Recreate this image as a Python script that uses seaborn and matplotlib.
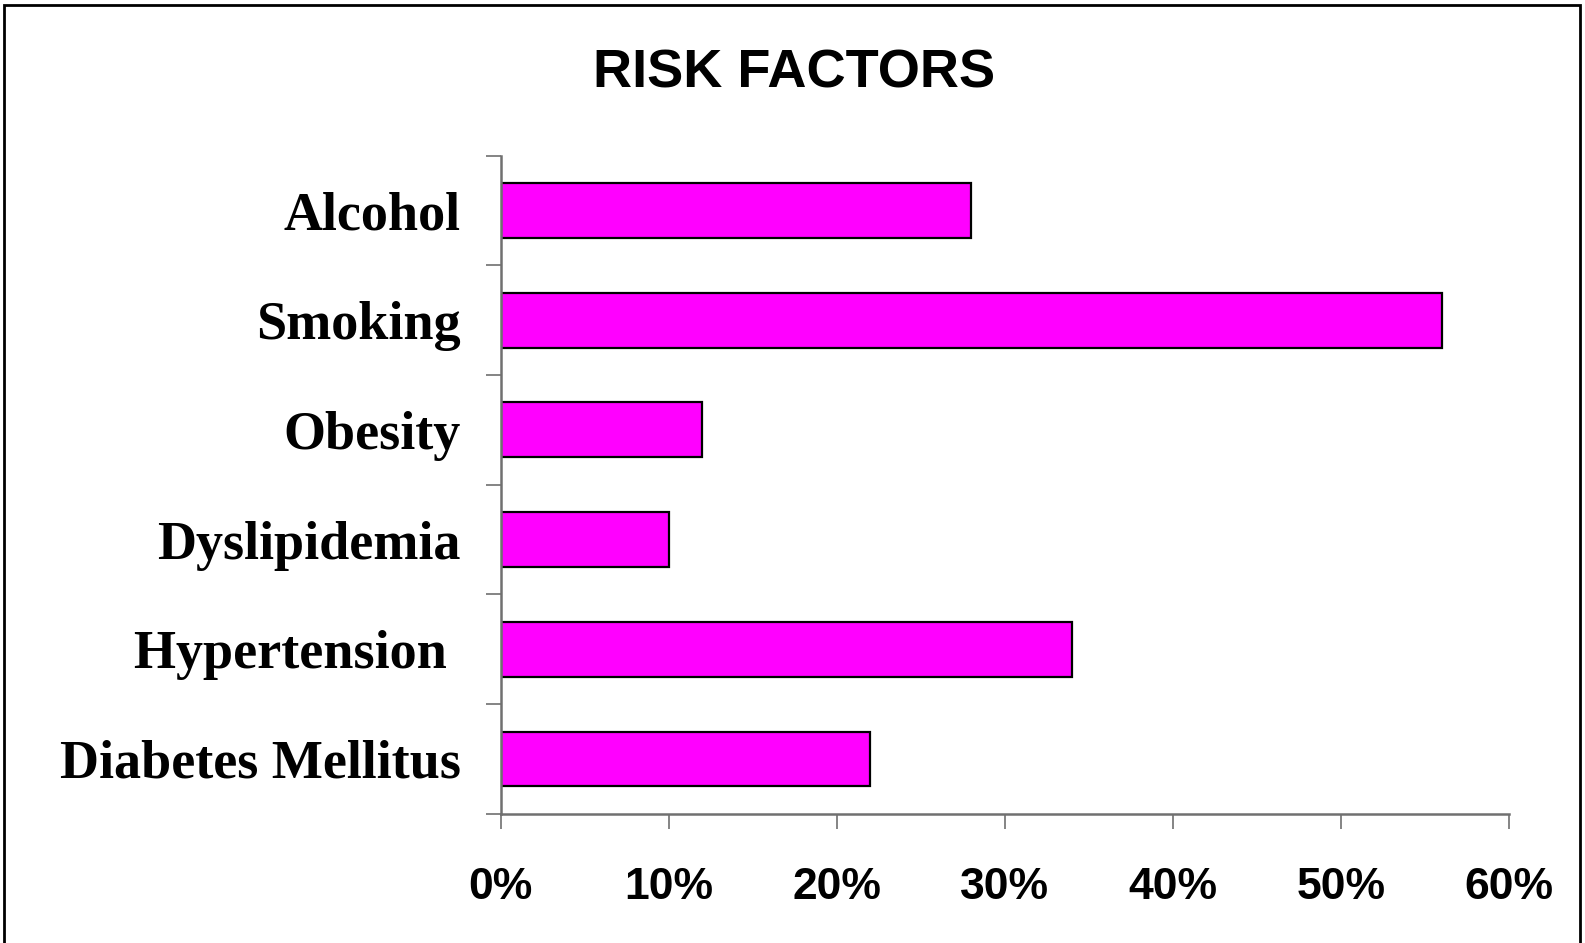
import matplotlib
matplotlib.use("Agg")
import matplotlib.pyplot as plt
import seaborn as sns
import pandas as pd
from matplotlib.patches import Rectangle

factors = ['Alcohol', 'Smoking', 'Obesity', 'Dyslipidemia', 'Hypertension ', 'Diabetes Mellitus']
percent = [28, 56, 12, 10, 34, 22]
x_ticks = [0, 10, 20, 30, 40, 50, 60]

df = pd.DataFrame({'factor': factors, 'percent': percent})

sns.set_style('white')
plt.rcParams['text.color'] = 'black'

fig = plt.figure(figsize=(15.85, 9.43), dpi=100)
ax = fig.add_axes([0.316, 0.137, 0.636, 0.698])

sns.barplot(data=df, x='percent', y='factor', orient='h', color='#ff00ff',
            saturation=1, width=0.5, edgecolor='black', linewidth=1.6, ax=ax)

# axis settings
ax.set_xlim(0, 60)
ax.set_ylim(len(factors) - 0.5, -0.5)
ax.set_xticks(x_ticks)
ax.set_xticklabels([f'{t}%' for t in x_ticks], fontfamily='Liberation Sans',
                   fontweight='bold', fontsize=32)
ax.set_yticks(range(len(factors)))
ax.set_yticklabels(factors, fontfamily='Liberation Serif', fontweight='bold',
                   fontsize=39)
ax.set_yticks([i - 0.5 for i in range(len(factors) + 1)], minor=True)
ax.tick_params(axis='y', which='major', left=True, length=0, pad=29,
               labelcolor='black')
ax.tick_params(axis='y', which='minor', left=True, length=10.5, width=1.2,
               color='#707070', direction='out')
ax.tick_params(axis='x', bottom=True, length=10.5, width=1.2, color='#707070',
               direction='out', pad=28, labelcolor='black')
ax.set_xlabel('')
ax.set_ylabel('')
sns.despine(ax=ax)
for s in ['left', 'bottom']:
    ax.spines[s].set_color('#707070')
    ax.spines[s].set_linewidth(1.8)

fig.text(0.501, 0.922, 'RISK FACTORS', ha='center', va='center',
         fontfamily='Liberation Sans', fontweight='bold', fontsize=39,
         color='black')

# border around figure
fig.patches.append(Rectangle((4 / 1585, -0.05), 1576 / 1585, 1.05 - 5 / 943,
                             transform=fig.transFigure, fill=False,
                             edgecolor='black', linewidth=2))

fig.savefig('out.png', dpi=100)
